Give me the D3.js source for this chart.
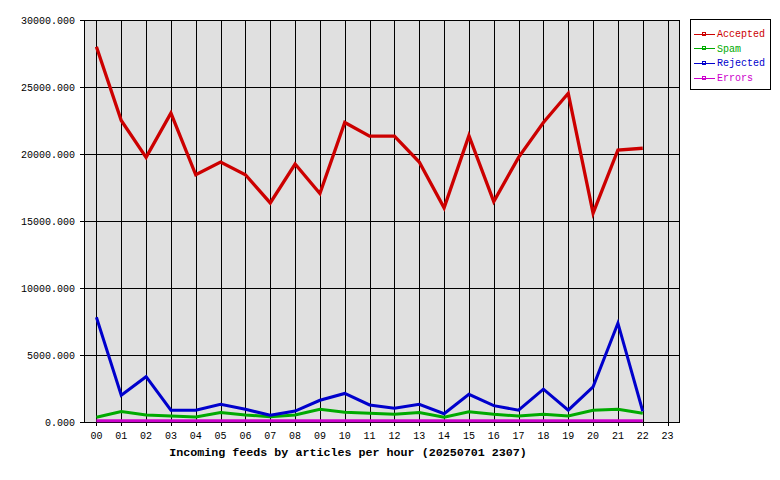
<!DOCTYPE html>
<html><head><meta charset="utf-8">
<script src="https://cdn.jsdelivr.net/npm/d3@7"></script>
<style>body{margin:0;background:#fff}svg{display:block}</style>
</head><body>
<script>
const hours = ["00","01","02","03","04","05","06","07","08","09","10","11","12","13","14","15","16","17","18","19","20","21","22","23"];
const accepted = [28000,22500,19750,23050,18450,19400,18450,16350,19250,17050,22350,21330,21330,19400,15980,21370,16450,19750,22350,24530,15580,20300,20430];
const spam = [350,780,520,450,370,700,520,400,520,950,720,650,570,700,350,770,570,450,570,450,880,950,650];
const rejected = [7820,2000,3380,880,880,1320,950,500,820,1620,2130,1270,1020,1320,620,2070,1220,880,2450,880,2620,7380,800];
const errors = [90,90,90,90,90,90,90,90,90,90,90,90,90,90,90,90,90,90,90,90,90,90,90];
const yTicks = [0,5000,10000,15000,20000,25000,30000];
const seriesNames = ["Accepted","Spam","Rejected","Errors"];
const seriesColors = ["#cc0000","#00aa00","#0000cc","#cc00cc"];
const title = "Incoming feeds by articles per hour (20250701 2307)";

const W=780,H=480;
const svg=d3.select("body").append("svg").attr("width",W).attr("height",H);
const font="'Liberation Mono','DejaVu Sans Mono',monospace";
const L=84,R=680,T=20,B=422;
const x=d3.scalePoint().domain(hours).range([L,R]).padding(0.5);
const y=d3.scaleLinear().domain([0,30000]).range([B,T]);

svg.append("rect").attr("x",L).attr("y",T).attr("width",R-L).attr("height",B-T).attr("fill","#e0e0e0");
const g=svg.append("g").attr("shape-rendering","crispEdges");
g.selectAll(".vg").data(hours).join("line").attr("x1",d=>Math.round(x(d))+0.5).attr("x2",d=>Math.round(x(d))+0.5)
  .attr("y1",T).attr("y2",B+4).attr("stroke","#000");
g.selectAll(".hg").data(yTicks).join("line").attr("x1",L-4).attr("x2",R)
  .attr("y1",d=>Math.round(y(d))+0.5).attr("y2",d=>Math.round(y(d))+0.5).attr("stroke","#000");
g.append("rect").attr("x",L+0.5).attr("y",T+0.5).attr("width",R-L-1).attr("height",B-T).attr("fill","none").attr("stroke","#000");

svg.selectAll(".yl").data(yTicks).join("text").attr("x",75).attr("y",d=>y(d)).attr("dy","0.35em")
  .attr("text-anchor","end").attr("font-family",font).attr("font-size","10px").text(d=>d3.format(".3f")(d));
svg.selectAll(".xl").data(hours).join("text").attr("x",d=>x(d)).attr("y",435).attr("dy","0.35em")
  .attr("text-anchor","middle").attr("font-family",font).attr("font-size","10px").text(d=>d);
svg.append("text").attr("x",348).attr("y",452).attr("dy","0.35em").attr("text-anchor","middle")
  .attr("font-family",font).attr("font-size","11.7px").attr("font-weight","bold").text(title);

const data=[accepted,spam,rejected,errors];
const line=d3.line().x((d,i)=>x(hours[i])).y(d=>y(d));
[3,1,2,0].forEach(k=>{
  svg.append("path").attr("d",line(data[k])).attr("fill","none").attr("stroke",seriesColors[k])
    .attr("stroke-width",k===0?3.3:3).attr("stroke-linejoin","miter");
});

const lg=svg.append("g");
lg.append("rect").attr("x",690.5).attr("y",19.5).attr("width",80).attr("height",70).attr("fill","#fff").attr("stroke","#000").attr("shape-rendering","crispEdges");
seriesNames.forEach((n,i)=>{
  const yy=33.5+i*14.7;
  lg.append("line").attr("x1",694).attr("x2",715).attr("y1",Math.round(yy)+0.5).attr("y2",Math.round(yy)+0.5).attr("stroke",seriesColors[i]).attr("shape-rendering","crispEdges");
  lg.append("rect").attr("x",702.5).attr("y",Math.round(yy)-1.5).attr("width",3).attr("height",3).attr("fill","none").attr("stroke",seriesColors[i]).attr("stroke-width",1).attr("shape-rendering","crispEdges");
  lg.append("text").attr("x",717).attr("y",yy).attr("dy","0.35em").attr("font-family",font).attr("font-size","10px").attr("fill",seriesColors[i]).text(n);
});
</script>
</body></html>
